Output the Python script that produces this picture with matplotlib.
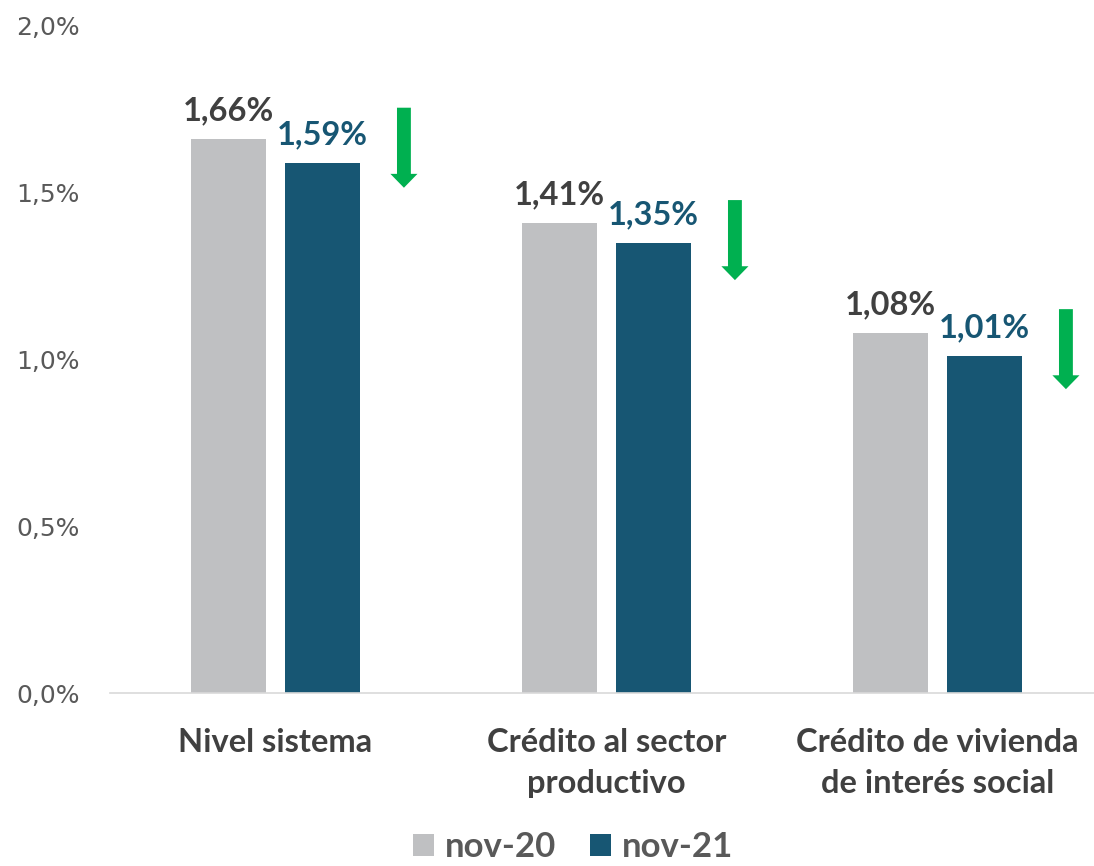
import numpy as np
import matplotlib.pyplot as plt

# data
categorias = ["Nivel sistema", "Crédito al sector\nproductivo", "Crédito de vivienda\nde interés social"]
nov20 = [1.66, 1.41, 1.08]
nov21 = [1.59, 1.35, 1.01]
series = ["nov-20", "nov-21"]

gris = "#BFC0C2"
azul = "#175673"
verde = "#00B050"
txt = "#404040"
bold_font = ["Lato", "DejaVu Sans"]

fig = plt.figure(figsize=(10.94, 8.66), dpi=100)
ax = fig.add_axes([110 / 1094, 1 - 693 / 866, 1 - 110 / 1094, (693 - 26) / 866])

x = np.arange(len(categorias))
w = 0.224
off = 0.142
b1 = ax.bar(x - off, nov20, w, color=gris, label=series[0], zorder=2)
b2 = ax.bar(x + off, nov21, w, color=azul, label=series[1], zorder=2)

def fmt(v):
    return f"{v:.2f}%".replace(".", ",")

for xi, v in zip(x, nov20):
    ax.annotate(fmt(v), (xi - off, v), xytext=(0, 10), textcoords="offset points",
                ha="center", va="bottom", fontsize=23.5, fontweight="bold",
                color=txt, family=bold_font)
for xi, v in zip(x, nov21):
    ax.annotate(fmt(v), (xi + off, v), xytext=(0, 10), textcoords="offset points",
                ha="center", va="bottom", fontsize=23.5, fontweight="bold",
                color=azul, family=bold_font)

# flechas de bajada
arrow_top = [1.755, 1.478, 1.151]
arrow_len = 0.24
for xi, t in zip(x, arrow_top):
    ax.annotate("", xy=(xi + 0.388, t - arrow_len), xytext=(xi + 0.388, t),
                arrowprops=dict(arrowstyle="simple,head_width=1.95,head_length=1.0,tail_width=1.0",
                                color=verde, lw=0, shrinkA=0, shrinkB=0), zorder=3)

ax.set_xlim(-0.5, -0.5 + 984 / 331)
ax.set_ylim(0, 2.0)
ax.set_yticks([0, 0.5, 1.0, 1.5, 2.0])
ax.set_yticklabels([f"{t:.1f}%".replace(".", ",") for t in [0, 0.5, 1.0, 1.5, 2.0]],
                   fontsize=18, color="#595959")
ax.set_xticks(x)
ax.set_xticklabels(categorias, fontsize=23.5, fontweight="bold", color=txt,
                   family=bold_font, linespacing=1.5)
ax.tick_params(axis="y", length=0, pad=22)
ax.tick_params(axis="x", length=0, pad=25)
for s in ["top", "right", "left"]:
    ax.spines[s].set_visible(False)
ax.spines["bottom"].set_color("#D9D9D9")
ax.spines["bottom"].set_linewidth(1.2)

fig.legend(handles=[b1, b2], labels=series, loc="center",
           bbox_to_anchor=(573 / 1094, 1 - 847 / 866), ncol=2, frameon=False,
           prop=dict(family=bold_font, weight="bold", size=25),
           handlelength=0.6, handleheight=0.6, handletextpad=0.3,
           columnspacing=1.0, labelcolor="#595959",
           borderpad=0.1, borderaxespad=0)

fig.savefig("out.png", dpi=100)
